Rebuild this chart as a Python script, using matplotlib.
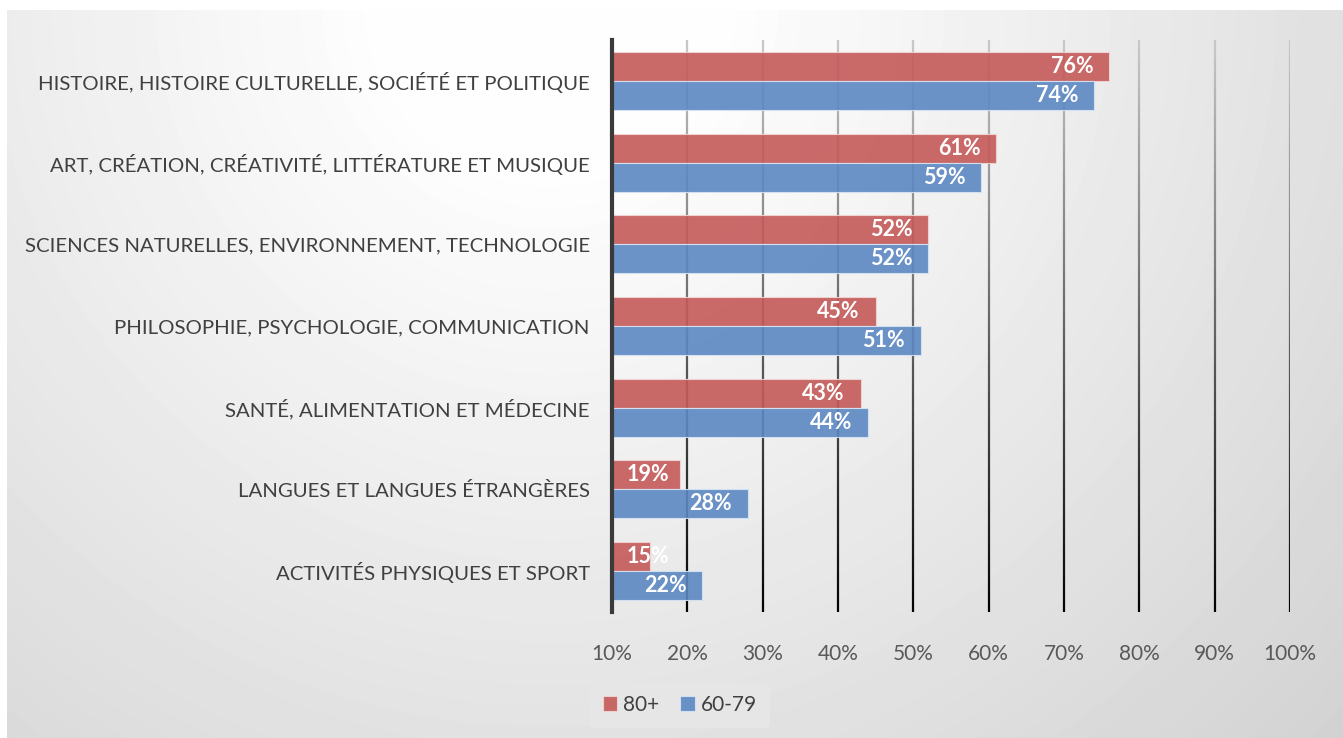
import numpy as np
import matplotlib
matplotlib.use("Agg")
import matplotlib.pyplot as plt
from matplotlib.collections import LineCollection

categories = [
    "HISTOIRE, HISTOIRE CULTURELLE, SOCIÉTÉ ET POLITIQUE",
    "ART, CRÉATION, CRÉATIVITÉ, LITTÉRATURE ET MUSIQUE",
    "SCIENCES NATURELLES, ENVIRONNEMENT, TECHNOLOGIE",
    "PHILOSOPHIE, PSYCHOLOGIE, COMMUNICATION",
    "SANTÉ, ALIMENTATION ET MÉDECINE",
    "LANGUES ET LANGUES ÉTRANGÈRES",
    "ACTIVITÉS PHYSIQUES ET SPORT",
]
vals_80 = [76, 61, 52, 45, 43, 19, 15]
vals_60 = [74, 59, 52, 51, 44, 28, 22]
series = ["80+", "60-79"]
xticks = [10, 20, 30, 40, 50, 60, 70, 80, 90, 100]

RED = "#c45a59"
BLUE = "#5c88c2"
plt.rcParams["font.family"] = ["Lato", "DejaVu Sans"]

W, H = 1343, 738
fig = plt.figure(figsize=(W / 100, H / 100), dpi=100)
fig.patch.set_facecolor("white")

# radial grey gradient behind the chart, lightest at the top centre
bg = fig.add_axes([7 / W, 0, 1 - 7 / W, 1 - 10 / H])
yy, xx = np.mgrid[0:728, 0:1336]
d = np.hypot(xx + 7 - 550, yy + 10)
shade = np.clip((262 - 0.048 * d) / 255, 0, 0.995)
bg.imshow(shade, cmap="gray", vmin=0, vmax=1, aspect="auto", interpolation="bilinear")
bg.axis("off")

ax = fig.add_axes([612 / W, 1 - 612 / H, (1290 - 612) / W, (612 - 40) / H])
ax.patch.set_alpha(0)

y = np.arange(len(categories))
h = 0.355
b1 = ax.barh(y - h / 2, [v - 10 for v in vals_80], height=h, left=10, color=RED, alpha=0.9,
             edgecolor="#f3d6d6", linewidth=0.8, label=series[0], zorder=3)
b2 = ax.barh(y + h / 2, [v - 10 for v in vals_60], height=h, left=10, color=BLUE, alpha=0.9,
             edgecolor="#d8e4f3", linewidth=0.8, label=series[1], zorder=3)

# labels sit inside the bar end, but never closer to the axis than a fixed spot
for yy_, vals in [(y - h / 2, vals_80), (y + h / 2, vals_60)]:
    for yi, v in zip(yy_, vals):
        ax.text(max(v - 2.1, 17.6), yi, f"{v}%", ha="right", va="center", color="white",
                fontweight="bold", fontsize=15.5, zorder=4)

# gridlines fading from light grey at top to black at bottom
n = 60
ts = np.linspace(1, 0, n + 1)
segs, cols = [], []
for xv in xticks[1:]:
    for i in range(n):
        segs.append([(xv, ts[i]), (xv, ts[i + 1])])
        g = 0.78 * ts[i]
        cols.append((g, g, g, 1))
lc = LineCollection(segs, colors=cols, linewidths=1.6, transform=ax.get_xaxis_transform(), zorder=1)
ax.add_collection(lc)

ax.set_xlim(10, 100)
ax.set_ylim(len(categories) - 0.5, -0.5)
ax.set_xticks(xticks)
ax.set_xticklabels([f"{t}%" for t in xticks])
ax.set_yticks(y)
ax.set_yticklabels(categories)
ax.tick_params(axis="x", length=0, pad=23, labelsize=15, labelcolor="#595959")
ax.tick_params(axis="y", length=0, pad=16, labelsize=14.7, labelcolor="#404040")
for s in ["top", "right", "bottom"]:
    ax.spines[s].set_visible(False)
ax.spines["left"].set_color("#3a3a3a")
ax.spines["left"].set_linewidth(3)
ax.spines["left"].set_zorder(5)

leg = fig.legend(handles=[b1, b2], labels=series, loc="center", bbox_to_anchor=(680 / W, 1 - 705 / H),
                 ncol=2, frameon=True, fontsize=15, handlelength=0.7, handleheight=0.7,
                 handletextpad=0.3, columnspacing=1.0, borderpad=0.6)
leg.get_frame().set_facecolor("#e6e6e6")
leg.get_frame().set_edgecolor("none")
leg.get_frame().set_alpha(1)
for t in leg.get_texts():
    t.set_color("#404040")

fig.savefig("out.png", dpi=100)
